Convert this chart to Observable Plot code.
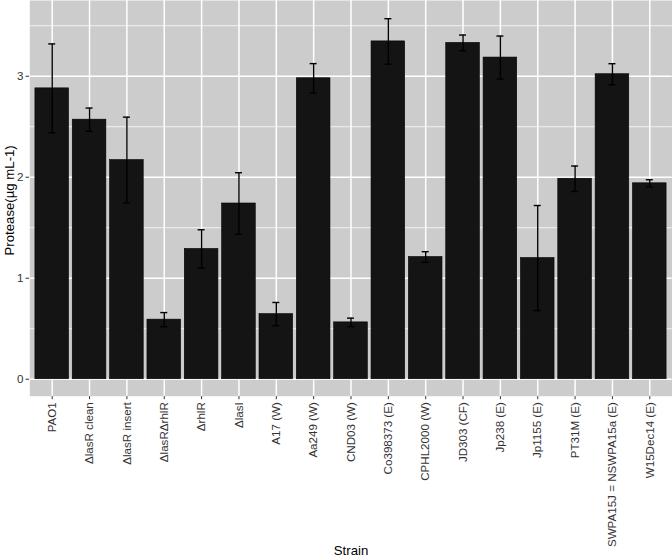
<!DOCTYPE html>
<html>
<head>
<meta charset="utf-8">
<script src="https://cdn.jsdelivr.net/npm/d3@7"></script>
<script src="https://cdn.jsdelivr.net/npm/@observablehq/plot@0.6"></script>
<style>
  html, body { margin: 0; padding: 0; background: #ffffff; }
  #chart svg { display: block; }
</style>
</head>
<body>
<div id="chart"></div>
<script>
const strains = ["PAO1", "ΔlasR clean", "ΔlasR insert", "ΔlasRΔrhlR", "ΔrhlR", "ΔlasI", "A17 (W)", "Aa249 (W)", "CND03 (W)", "Co398373 (E)", "CPHL2000 (W)", "JD303 (CF)", "Jp238 (E)", "Jp1155 (E)", "PT31M (E)", "SWPA15J = NSWPA15a (E)", "W15Dec14 (E)"];
const means = [2.88, 2.57, 2.17, 0.59, 1.29, 1.74, 0.645, 2.98, 0.563, 3.345, 1.21, 3.33, 3.185, 1.20, 1.985, 3.02, 1.94];
const errors = [0.44, 0.115, 0.425, 0.07, 0.19, 0.305, 0.115, 0.145, 0.042, 0.225, 0.053, 0.078, 0.213, 0.52, 0.126, 0.104, 0.035];
const majorTicks = [0, 1, 2, 3];
const minorTicks = [0.5, 1.5, 2.5, 3.5];
const yTitle = "Protease(µg mL-1)";
const xTitle = "Strain";

const data = strains.map((s, i) => ({strain: s, mean: means[i], lo: means[i] - errors[i], hi: means[i] + errors[i]}));

const W = 672, H = 558;
const mL = 29.3, mR = 0.3, mT = 0, mB = 162.3;
const bandStep = (W - mL - mR) / (strains.length - 0.1 + 0.3);
const bandwidth = bandStep * 0.9;
const capInset = (bandwidth - 7) / 2;

const chart = Plot.plot({
  width: W,
  height: H,
  marginLeft: mL,
  marginRight: mR,
  marginTop: mT,
  marginBottom: mB,
  style: {fontFamily: "'Liberation Sans', Arial, sans-serif", fontSize: "11.6px", color: "#333333", background: "#ffffff"},
  x: {
    type: "band",
    domain: strains,
    paddingInner: 0.1,
    paddingOuter: 0.15,
    round: false,
    tickRotate: -90,
    tickSize: 3.5,
    tickPadding: 2.5,
    label: null
  },
  y: {
    domain: [-0.168, 3.75],
    ticks: majorTicks,
    tickSize: 3.8,
    tickPadding: 2.5,
    tickFormat: d => String(d),
    label: null
  },
  marks: [
    Plot.frame({fill: "#cccccc", stroke: "none"}),
    Plot.ruleY(minorTicks, {stroke: "#ffffff", strokeWidth: 0.75}),
    Plot.ruleY(majorTicks, {stroke: "#ffffff", strokeWidth: 1.5}),
    Plot.ruleX(strains, {stroke: "#ffffff", strokeWidth: 1.5}),
    Plot.barY(data, {x: "strain", y1: 0, y2: "mean", fill: "#141414", stroke: "#000000", strokeWidth: 0.6}),
    Plot.ruleX(data, {x: "strain", y1: "lo", y2: "hi", stroke: "#000000", strokeWidth: 1.4}),
    Plot.tickY(data, {x: "strain", y: "hi", stroke: "#000000", strokeWidth: 1.4, insetLeft: capInset, insetRight: capInset}),
    Plot.tickY(data, {x: "strain", y: "lo", stroke: "#000000", strokeWidth: 1.4, insetLeft: capInset, insetRight: capInset}),
    Plot.text([yTitle], {frameAnchor: "left", textAnchor: "middle", lineAnchor: "middle", text: d => d, rotate: -90, dx: -20.5, dy: 2, fontSize: 13.2, fill: "#000000"}),
    Plot.text([xTitle], {frameAnchor: "bottom", textAnchor: "middle", lineAnchor: "bottom", text: d => d, dy: 158.5, fontSize: 13.2, fill: "#000000"})
  ]
});

document.getElementById("chart").appendChild(chart);
</script>
</body>
</html>
